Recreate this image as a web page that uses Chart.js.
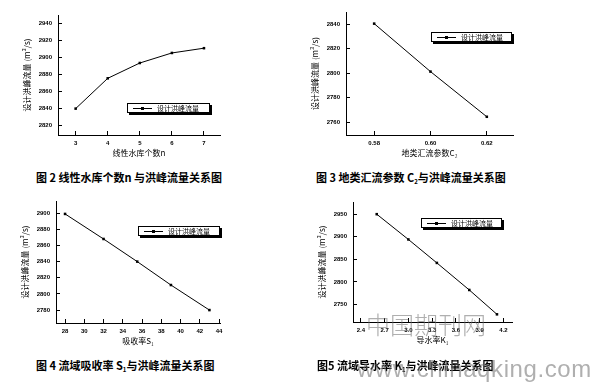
<!DOCTYPE html>
<html>
<head>
<meta charset="utf-8">
<script src="https://cdn.jsdelivr.net/npm/chart.js@4.4.0/dist/chart.umd.min.js"></script>
<style>
    html, body { margin:0; padding:0; background:#fff; }
    #pagina { position:relative; width:594px; height:385px; overflow:hidden; background:#fff; }
    .caixa { position:absolute; }
    .legenda { position:absolute; box-sizing:border-box; border:1px solid #000; box-shadow:2px 2px 0 #000; background:#fff;
               display:flex; align-items:center; overflow:hidden; font:7px 'Noto Sans CJK SC'; line-height:8px; color:#000; white-space:nowrap; }
    .simbolo { position:relative; display:inline-block; flex:none; width:19px; height:1px; background:#000; margin:0 5px 0 5px; }
    .simbolo::after { content:''; position:absolute; left:8px; top:-1px; width:3px; height:3px; background:#000; }
    .legenda-texto { flex:none; }
    .rotulo { position:absolute; font:bold 11px 'Noto Sans CJK SC'; line-height:13px; color:#000; white-space:nowrap; }
    .rotulo sub { font-size:6px; vertical-align:-2px; }
    .marca { position:absolute; color:rgba(110,110,110,0.55); white-space:nowrap; }
</style>
</head>
<body>
<div id="pagina">
    <div class="caixa" id="c1"><canvas id="g1"></canvas></div>
    <div class="caixa" id="c2"><canvas id="g2"></canvas></div>
    <div class="caixa" id="c3"><canvas id="g3"></canvas></div>
    <div class="caixa" id="c4"><canvas id="g4"></canvas></div>

    <div class="legenda" style="left:127px;top:103px;width:83px;height:10px;"><span class="simbolo"></span><span class="legenda-texto">设计洪峰流量</span></div>
    <div class="legenda" style="left:431px;top:32px;width:81px;height:10px;"><span class="simbolo"></span><span class="legenda-texto">设计洪峰流量</span></div>
    <div class="legenda" style="left:138px;top:226px;width:82px;height:10px;"><span class="simbolo"></span><span class="legenda-texto">设计洪峰流量</span></div>
    <div class="legenda" style="left:421px;top:218px;width:81px;height:10px;"><span class="simbolo"></span><span class="legenda-texto">设计洪峰流量</span></div>

    <div class="rotulo" style="left:36px;top:171px;">图 2 线性水库个数n 与洪峰流量关系图</div>
    <div class="rotulo" style="left:316px;top:171px;">图 3 地类汇流参数 C<sub>2</sub>与洪峰流量关系图</div>
    <div class="rotulo" style="left:36px;top:359px;">图 4 流域吸收率 S<sub>1</sub>与洪峰流量关系图</div>
    <div class="rotulo" style="left:317px;top:359px;">图5 流域导水率 K<sub>1</sub>与洪峰流量关系图</div>

    <div class="marca" style="left:366px;top:309px;font:300 24px 'Noto Sans CJK SC';line-height:30px;">中国期刊网</div>
    <div class="marca" style="left:357px;top:355px;font:24px 'Liberation Sans';line-height:28px;letter-spacing:0.6px;">www.chinaqking.com</div>
</div>

<script>
// ---------------- Dados ----------------
// Fig. 2 - numero de reservatorios lineares n
const xN = [3, 4, 5, 6, 7];
const qN = [2840, 2875.6, 2893.6, 2905.4, 2911];
const ticksXN = [3, 4, 5, 6, 7];
const ticksYN = [2820, 2840, 2860, 2880, 2900, 2920, 2940];

// Fig. 3 - parametro de escoamento C2
const xC = [0.58, 0.60, 0.62];
const qC = [2840.5, 2801.3, 2764.4];
const ticksXC = [0.58, 0.60, 0.62];
const ticksYC = [2760, 2780, 2800, 2820, 2840];

// Fig. 4 - taxa de absorcao S
const xS = [28, 32, 35.5, 39, 43];
const qS = [2899, 2868, 2840, 2811, 2780];
const ticksXS = [28, 30, 32, 34, 36, 38, 40, 42, 44];
const ticksYS = [2780, 2800, 2820, 2840, 2860, 2880, 2900];

// Fig. 5 - condutividade K
const xK = [2.6, 3.0, 3.36, 3.77, 4.12];
const qK = [2950, 2894, 2842, 2782, 2728];
const ticksXK = [2.4, 2.7, 3.0, 3.3, 3.6, 3.9, 4.2];
const ticksYK = [2750, 2800, 2850, 2900, 2950];

const tituloY = '设计洪峰流量 (m³/s)';

// ---------------- Estilo ----------------
const fonteNum = { family: "'Liberation Sans'", size: 6, weight: 'bold' };
const fonteEixo = { family: "'Noto Sans CJK SC'", size: 8 };
const LARG_Y = 48, ALT_X = 25, PAD_TOP = 8, PAD_DIR = 4;

function criarGrafico(caixaId, canvasId, area, xs, ys, eixoX, eixoY) {
    const caixa = document.getElementById(caixaId);
    const largura = area.R - area.L + LARG_Y + PAD_DIR;
    const altura = area.B - area.T + ALT_X + PAD_TOP;
    caixa.style.left = (area.L - LARG_Y) + 'px';
    caixa.style.top = (area.T - PAD_TOP) + 'px';
    const canvas = document.getElementById(canvasId);
    canvas.width = largura;
    canvas.height = altura;
    canvas.style.width = largura + 'px';
    canvas.style.height = altura + 'px';

    const pontos = xs.map((x, i) => ({ x: x, y: ys[i] }));

    new Chart(canvas, {
        type: 'line',
        data: {
            datasets: [{
                data: pontos,
                borderColor: '#000', borderWidth: 1,
                pointStyle: 'rect', pointRadius: 1.8,
                pointBackgroundColor: '#000', pointBorderColor: '#000', pointBorderWidth: 0,
                tension: 0, fill: false
            }]
        },
        options: {
            responsive: false,
            animation: false,
            devicePixelRatio: 1,
            layout: { padding: { top: PAD_TOP, right: PAD_DIR, left: 0, bottom: 0 } },
            plugins: { legend: { display: false }, tooltip: { enabled: false } },
            scales: {
                x: {
                    type: 'linear', position: 'bottom',
                    min: eixoX.min, max: eixoX.max,
                    afterBuildTicks: s => { s.ticks = eixoX.ticks.map(v => ({ value: v })); },
                    afterFit: s => { s.height = ALT_X; s.paddingLeft = 0; s.paddingRight = 0; },
                    border: { color: '#000', width: 1 },
                    grid: { drawOnChartArea: false, color: '#000', tickColor: '#000', tickLength: -4 },
                    ticks: { color: '#000', font: fonteNum, padding: 9, maxRotation: 0, autoSkip: false, callback: eixoX.fmt },
                    title: { display: true, text: eixoX.titulo, color: '#000', font: fonteEixo, padding: { top: 0, bottom: 2 } }
                },
                y: {
                    type: 'linear', position: 'left',
                    min: eixoY.min, max: eixoY.max,
                    afterBuildTicks: s => { s.ticks = eixoY.ticks.map(v => ({ value: v })); },
                    afterFit: s => { s.width = LARG_Y; s.paddingTop = 0; s.paddingBottom = 0; },
                    border: { color: '#000', width: 1 },
                    grid: { drawOnChartArea: false, color: '#000', tickColor: '#000', tickLength: -4 },
                    ticks: { color: '#000', font: fonteNum, padding: 10, autoSkip: false, callback: v => String(v) },
                    title: { display: true, text: tituloY, color: '#000', font: fonteEixo, padding: { top: 12, bottom: 0 } }
                }
            }
        }
    });
}

criarGrafico('c1', 'g1', { L: 58, R: 220, T: 15, B: 135 }, xN, qN,
    { min: 2.45, max: 7.5, ticks: ticksXN, fmt: v => String(v), titulo: '线性水库个数n' },
    { min: 2809, max: 2950, ticks: ticksYN });

criarGrafico('c2', 'g2', { L: 346, R: 513, T: 12, B: 135 }, xC, qC,
    { min: 0.57, max: 0.6293, ticks: ticksXC, fmt: v => v.toFixed(2), titulo: '地类汇流参数C₂' },
    { min: 2749.5, max: 2850, ticks: ticksYC });

criarGrafico('c3', 'g3', { L: 56, R: 220, T: 201, B: 323 }, xS, qS,
    { min: 27.06, max: 44.1, ticks: ticksXS, fmt: v => String(v), titulo: '吸收率S₁' },
    { min: 2764, max: 2915, ticks: ticksYS });

criarGrafico('c4', 'g4', { L: 353, R: 512, T: 202, B: 322 }, xK, qK,
    { min: 2.3, max: 4.31, ticks: ticksXK, fmt: v => v.toFixed(1), titulo: '导水率K₁' },
    { min: 2711, max: 2977, ticks: ticksYK });
</script>
</body>
</html>
